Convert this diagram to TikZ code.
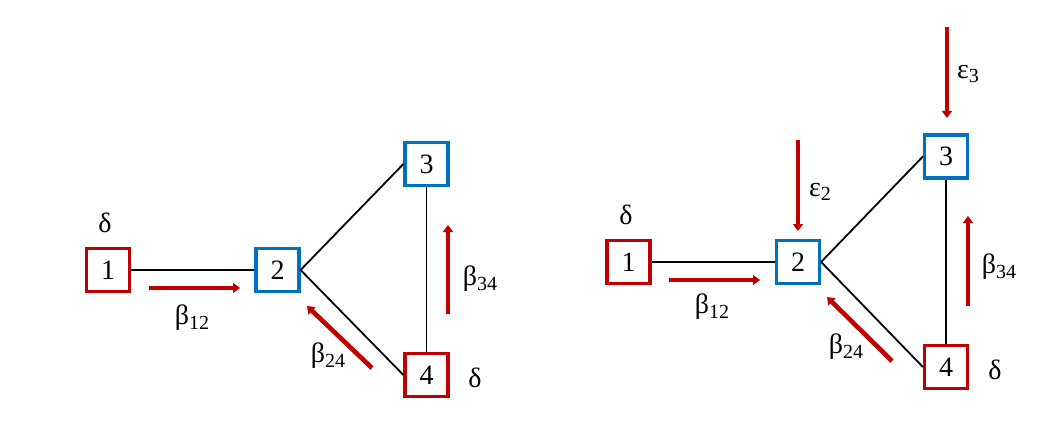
\documentclass[tikz,border=0pt]{standalone}
\usepackage{fontspec}
\setmainfont{Liberation Serif}
\usetikzlibrary{arrows.meta}
\definecolor{nred}{RGB}{192,0,0}
\definecolor{nblue}{RGB}{0,112,192}
\tikzset{
  rbox/.style={draw=nred,line width=3.2pt,fill=white,minimum width=43pt,minimum height=43pt,inner sep=0pt,font=\fontsize{28}{32}\selectfont},
  bbox/.style={rbox,draw=nblue},
  link/.style={line width=1.8pt,black},
  flow/.style={draw=nred,line width=4.6pt,-{Triangle[length=7pt,width=10pt]}},
  lab/.style={font=\fontsize{28}{32}\selectfont,inner sep=0pt},
}
\newcommand{\sub}[1]{\raisebox{-0.35ex}{\fontsize{20}{24}\selectfont #1}}
\begin{document}
\begin{tikzpicture}[x=1pt,y=-1pt]
\useasboundingbox[fill=white] (0,0) rectangle (1042,433);
% left diagram
\node[rbox] (a1) at (108,270) {1};
\node[bbox] (a2) at (277.5,270) {2};
\node[bbox] (a3) at (426.5,164) {3};
\node[rbox] (a4) at (426.5,375) {4};
\draw[link] (a1) -- (a2);
\draw[link] (a2.east) -- (a3.west);
\draw[link] (a2.east) -- (a4.west);
\draw[link] (a3) -- (a4);
\node[lab] (ad1) at (105,223) {δ};
\node[lab] (ad4) at (475,378) {δ};
\coordinate (ab12s) at (149,288); \coordinate (ab12e) at (240,288);
\draw[flow] (ab12s) -- (ab12e);
\node[lab] (ab12) at (192,318) {β\sub{12}};
\coordinate (ab24s) at (372,368); \coordinate (ab24e) at (307,306);
\draw[flow] (ab24s) -- (ab24e);
\node[lab] (ab24) at (328,356) {β\sub{24}};
\coordinate (ab34s) at (448,314); \coordinate (ab34e) at (448,225);
\draw[flow] (ab34s) -- (ab34e);
\node[lab] (ab34) at (480,279) {β\sub{34}};
% right diagram
\node[rbox] (b1) at (628.5,262) {1};
\node[bbox] (b2) at (798,262) {2};
\node[bbox] (b3) at (946,156.5) {3};
\node[rbox] (b4) at (946,367) {4};
\draw[link] (b1) -- (b2);
\draw[link] (b2.east) -- (b3.west);
\draw[link] (b2.east) -- (b4.west);
\draw[link] (b3) -- (b4);
\node[lab] (bd1) at (626,215) {δ};
\node[lab] (bd4) at (995,370) {δ};
\coordinate (be2s) at (798,140); \coordinate (be2e) at (798,231);
\draw[flow] (be2s) -- (be2e);
\node[lab] (be2) at (820,192) {ε\sub{2}};
\coordinate (be3s) at (947,27); \coordinate (be3e) at (947,118);
\draw[flow] (be3s) -- (be3e);
\node[lab] (be3) at (968,74) {ε\sub{3}};
\coordinate (bb12s) at (669,280); \coordinate (bb12e) at (760,280);
\draw[flow] (bb12s) -- (bb12e);
\node[lab] (bb12) at (712,307) {β\sub{12}};
\coordinate (bb24s) at (892,361); \coordinate (bb24e) at (827,297);
\draw[flow] (bb24s) -- (bb24e);
\node[lab] (bb24) at (846,347) {β\sub{24}};
\coordinate (bb34s) at (968,306); \coordinate (bb34e) at (968,216);
\draw[flow] (bb34s) -- (bb34e);
\node[lab] (bb34) at (999,267) {β\sub{34}};
\end{tikzpicture}
\end{document}
